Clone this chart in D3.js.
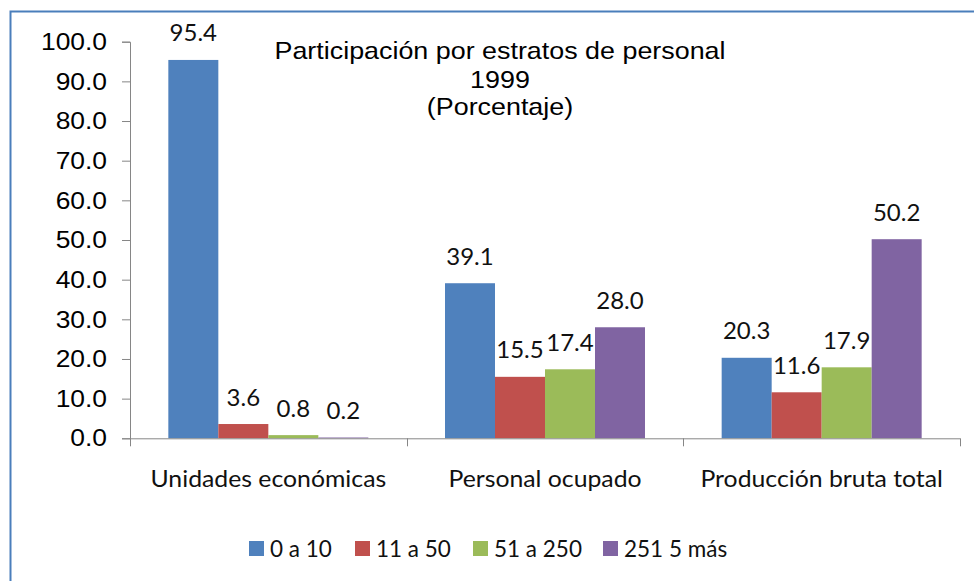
<!DOCTYPE html>
<html><head><meta charset="utf-8">
<script src="https://cdn.jsdelivr.net/npm/d3@7"></script>
<style>
html,body{margin:0;padding:0;background:#fff;}
svg{display:block;}
</style></head>
<body>
<svg id="c" width="974" height="581"></svg>
<script>
const categories = ["Unidades económicas", "Personal ocupado", "Producción bruta total"];
const seriesNames = ["0 a 10", "11 a 50", "51 a 250", "251 5 más"];
const s0a10 = [95.4, 39.1, 20.3];
const s11a50 = [3.6, 15.5, 11.6];
const s51a250 = [0.8, 17.4, 17.9];
const s251mas = [0.2, 28.0, 50.2];
const seriesValues = [s0a10, s11a50, s51a250, s251mas];
const colors = ["#4F81BD", "#C0504D", "#9BBB59", "#8064A2"];
const yTicks = [0, 10, 20, 30, 40, 50, 60, 70, 80, 90, 100];
const titleLines = ["Participación por estratos de personal", "1999", "(Porcentaje)"];

const svg = d3.select("#c");
const axisColor = "#868686";
const calibri = "Lato, 'Open Sans', sans-serif";
const arial = "'Liberation Sans', Arial, sans-serif";
const arialStretch = 1.1;
const titleStretch = 1.12;
const catStretch = 1.055;

// border
svg.append("path").attr("d", "M10.5,581 L10.5,11.5 L974,11.5")
  .attr("fill", "none").attr("stroke", "#4A7EBB").attr("stroke-width", 2);

const plotL = 130, plotR = 960, plotT = 41.7, plotB = 438.3;
const y = d3.scaleLinear().domain([0, 100]).range([plotB, plotT]);
const x0 = d3.scaleBand().domain(categories).range([plotL, plotR]).padding(0);
const bw = x0.bandwidth();
const groupW = bw * 0.7229;
const x1 = d3.scaleBand().domain(seriesNames)
  .range([(bw - groupW) / 2, (bw + groupW) / 2]).padding(0);

// y axis
const yAxis = svg.append("g").attr("transform", `translate(${plotL},0)`)
  .call(d3.axisLeft(y).tickValues(yTicks).tickFormat(d3.format(".1f")).tickSizeOuter(0).tickSize(8).tickPadding(15));
yAxis.select(".domain").attr("stroke", axisColor);
yAxis.selectAll(".tick line").attr("stroke", axisColor);
yAxis.selectAll(".tick text").attr("fill", "#000").attr("font-family", arial)
  .style("font-size", "24px")
  .attr("x", -23 / arialStretch)
  .attr("transform", `scale(${arialStretch},1)`);

// bars
const data = [];
categories.forEach((c, ci) => seriesNames.forEach((s, si) => data.push({c, s, si, v: seriesValues[si][ci]})));
const g = svg.append("g");
g.selectAll("rect").data(data).join("rect")
  .attr("x", d => x0(d.c) + x1(d.s))
  .attr("width", x1.bandwidth())
  .attr("y", d => y(d.v))
  .attr("height", d => y(0) - y(d.v))
  .attr("fill", d => colors[d.si]);

// x axis
const xa = svg.append("g");
xa.append("line").attr("x1", plotL).attr("x2", plotR).attr("y1", plotB + 0.5).attr("y2", plotB + 0.5)
  .attr("stroke", axisColor);
const bounds = categories.map(c => x0(c)).concat([plotR]);
xa.selectAll("line.tk").data(bounds).join("line").attr("class", "tk")
  .attr("x1", d => Math.round(d) + 0.5).attr("x2", d => Math.round(d) + 0.5)
  .attr("y1", plotB).attr("y2", plotB + 8).attr("stroke", axisColor);
xa.selectAll("text").data(categories).join("text")
  .attr("transform", d => `translate(${x0(d) + bw / 2},487) scale(${catStretch},1)`)
  .attr("text-anchor", "middle").attr("font-family", calibri).attr("font-size", 23.5)
  .attr("fill", "#111").text(d => d);

// value labels
g.selectAll("text.val").data(data).join("text").attr("class", "val")
  .attr("x", d => x0(d.c) + x1(d.s) + x1.bandwidth() / 2)
  .attr("y", d => y(d.v) - 18.5)
  .attr("text-anchor", "middle").attr("font-family", calibri).attr("font-size", 24)
  .attr("fill", "#111").text(d => d3.format(".1f")(d.v));

// title
svg.append("g").selectAll("text").data(titleLines).join("text")
  .attr("transform", (d, i) => `translate(500,${[58.5, 88.3, 115][i]}) scale(${titleStretch},1)`)
  .attr("text-anchor", "middle").attr("font-family", arial).attr("font-size", 24)
  .attr("fill", "#000").text(d => d);

// legend
const legX = [249, 355, 473, 603];
const leg = svg.append("g");
seriesNames.forEach((s, i) => {
  leg.append("rect").attr("x", legX[i]).attr("y", 541).attr("width", 15).attr("height", 15).attr("fill", colors[i]);
  leg.append("text").attr("x", legX[i] + 21).attr("y", 556.5).attr("font-family", calibri)
    .attr("font-size", 22.5).attr("fill", "#111").text(s);
});
</script>
</body></html>
